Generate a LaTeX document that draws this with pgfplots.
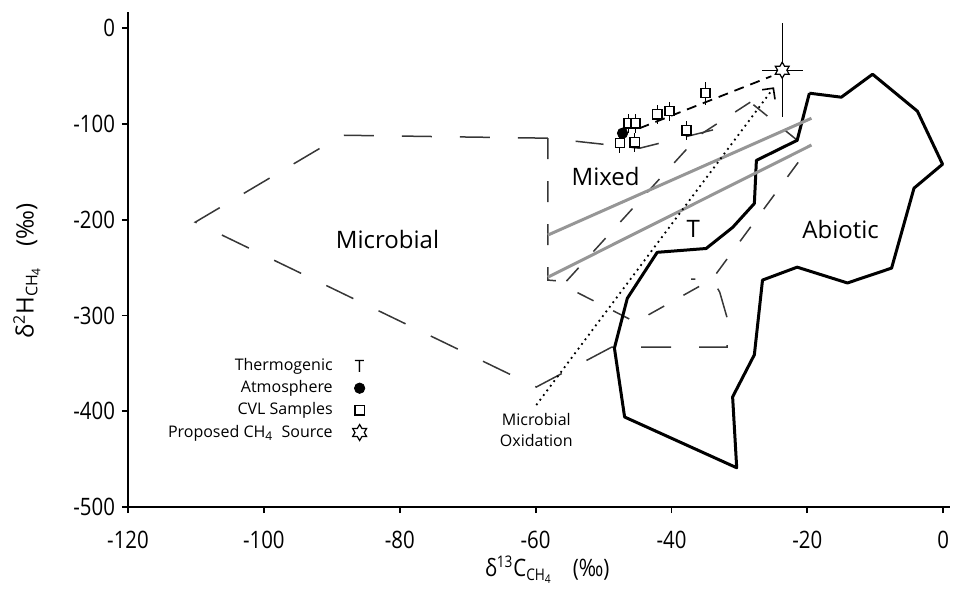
\documentclass[border=0pt]{standalone}
\usepackage{fontspec}
\setmainfont{Open Sans}
\newfontfamily\condfont{Open Sans}[FakeStretch=0.85]
\usepackage{pgfplots}
\pgfplotsset{compat=1.18}
\usetikzlibrary{arrows.meta,calc}

\definecolor{midgray}{RGB}{150,150,150}
\definecolor{dashgray}{RGB}{55,55,55}

% six-pointed outline star
\pgfdeclareplotmark{hexstar}{%
  \pgfpathmoveto{\pgfqpoint{0pt}{\pgfplotmarksize}}%
  \pgfpathlineto{\pgfqpoint{-0.29\pgfplotmarksize}{0.5\pgfplotmarksize}}%
  \pgfpathlineto{\pgfqpoint{-0.866\pgfplotmarksize}{0.5\pgfplotmarksize}}%
  \pgfpathlineto{\pgfqpoint{-0.58\pgfplotmarksize}{0pt}}%
  \pgfpathlineto{\pgfqpoint{-0.866\pgfplotmarksize}{-0.5\pgfplotmarksize}}%
  \pgfpathlineto{\pgfqpoint{-0.29\pgfplotmarksize}{-0.5\pgfplotmarksize}}%
  \pgfpathlineto{\pgfqpoint{0pt}{-\pgfplotmarksize}}%
  \pgfpathlineto{\pgfqpoint{0.29\pgfplotmarksize}{-0.5\pgfplotmarksize}}%
  \pgfpathlineto{\pgfqpoint{0.866\pgfplotmarksize}{-0.5\pgfplotmarksize}}%
  \pgfpathlineto{\pgfqpoint{0.58\pgfplotmarksize}{0pt}}%
  \pgfpathlineto{\pgfqpoint{0.866\pgfplotmarksize}{0.5\pgfplotmarksize}}%
  \pgfpathlineto{\pgfqpoint{0.29\pgfplotmarksize}{0.5\pgfplotmarksize}}%
  \pgfpathclose
  \pgfusepathqfillstroke
}

\begin{document}
\begin{tikzpicture}
\begin{axis}[
    scale only axis,
    width=411pt, height=247.5pt,
    xmin=-120, xmax=1, ymin=-500, ymax=17,
    axis lines=left,
    axis line style={-, line width=1pt},
    xtick={-120,-100,...,0},
    ytick={-500,-400,...,0},
    tick align=outside,
    major tick length=3pt,
    tick style={line width=0.9pt, black},
    /pgf/number format/assume math mode=true,
    ticklabel style={font=\condfont\fontsize{12}{14}\selectfont},
    xticklabel style={yshift=-5.5pt},
    xlabel={δ\textsuperscript{13}C\textsubscript{CH\textsubscript{4}}\hspace{10pt}(‰)},
    ylabel={δ\textsuperscript{2}H\textsubscript{CH\textsubscript{4}}\hspace{10pt}(‰)},
    xlabel style={font=\condfont\fontsize{12}{14}\selectfont,
        at={(axis description cs:0.51,-0.127)}, anchor=center},
    ylabel style={font=\fontsize{12}{14}\selectfont,
        at={(axis description cs:-0.123,0.477)}, anchor=center},
    legend plot pos=right,
    legend cell align=right,
    legend style={draw=none, fill=none, at={(0.298,0.313)}, anchor=north east,
        font=\fontsize{8}{9}\selectfont, row sep=1.5pt, column sep=9pt,
        nodes={inner sep=1pt}},
    clip=false,
]

% legend entries
\addlegendimage{only marks, mark=text, text mark={\fontsize{8.5}{9}\selectfont T}}
\addlegendentry{Thermogenic}
\addlegendimage{only marks, mark=*, mark size=2.6pt, black}
\addlegendentry{Atmosphere}
\addlegendimage{only marks, mark=square, mark size=2.3pt, black, line width=0.7pt}
\addlegendentry{CVL Samples}
\addlegendimage{only marks, mark=hexstar, mark size=4pt,
    mark options={fill=white, draw=black, line width=0.6pt}}
\addlegendentry{Proposed CH\textsubscript{4}\ \ Source}

% microbial / mixed field outlines (dashed)
\addplot[forget plot, dashgray, line width=0.75pt, dash pattern=on 15pt off 14pt]
  coordinates {(-58.2,-114.8) (-88.5,-111.7) (-110.1,-202.5) (-59.9,-374.7)
               (-48.8,-333) (-31.8,-333) (-31.8,-302.7) (-32.9,-275.6)
               (-34.0,-262) (-37.1,-262)};
\addplot[forget plot, dashgray, line width=0.75pt, dash pattern=on 10.5pt off 11pt]
  coordinates {(-58.2,-114.8) (-58.2,-263) (-56.5,-264)};
\addplot[forget plot, dashgray, line width=0.75pt, dash pattern=on 14pt off 14pt,
    dash phase=14pt]
  coordinates {(-58.2,-114.8) (-44.7,-125.3) (-32.9,-104.4)};
% thermogenic field outline
\addplot[forget plot, dashgray, line width=0.75pt, dash pattern=on 9pt off 11pt]
  coordinates {(-28.4,-77.2) (-35.9,-111.7) (-56.0,-268.3) (-45.3,-306.9)
               (-34.0,-262) (-20.9,-135.7) (-21.5,-116.9) (-28.4,-77.2)};

% abiotic field
\addplot[forget plot, black, line width=1.5pt, line join=round]
  coordinates {(-19.7,-67.8) (-15.0,-72.0) (-10.4,-48.0) (-3.8,-86.6)
               (-0.1,-142) (-4.3,-167) (-7.6,-250.5) (-14.1,-266)
               (-21.5,-249.5) (-26.6,-263) (-27.8,-341) (-31.0,-385)
               (-30.4,-459) (-46.9,-406) (-48.4,-334) (-46.5,-282)
               (-42.1,-234) (-34.9,-230) (-31.0,-208) (-27.8,-183)
               (-27.5,-138) (-21.5,-117) (-19.7,-67.8)};

% mixing lines
\addplot[forget plot, midgray, line width=1.5pt]
  coordinates {(-58.2,-216) (-19.4,-94)};
\addplot[forget plot, midgray, line width=1.5pt]
  coordinates {(-58.2,-260) (-19.4,-122)};

% microbial oxidation trend
\addplot[forget plot, black, line width=0.9pt, dotted,
    -{Straight Barb[length=4pt, width=8pt, line width=0.8pt]}]
  coordinates {(-59.9,-393.5) (-24.9,-61.6)};

% trend to proposed source
\addplot[forget plot, black, line width=0.9pt, dash pattern=on 5pt off 3.5pt]
  coordinates {(-44.7,-104.4) (-25.3,-50.1)};

% CVL samples
\addplot[forget plot, only marks, mark=square*, mark size=2.3pt,
    mark options={fill=white, draw=black, line width=0.7pt},
    error bars/.cd, y dir=both, y explicit, error mark=none,
    error bar style={line width=0.6pt, black}]
  coordinates {
    (-47.6,-120) +- (0,10)
    (-45.4,-119) +- (0,10)
    (-46.3,-99.2) +- (0,10)
    (-45.3,-99.2) +- (0,10)
    (-42.1,-89.8) +- (0,10)
    (-40.3,-86.6) +- (0,10)
    (-37.8,-106.5) +- (0,10)
    (-35.0,-67.8) +- (0,12)
  };

% atmosphere
\addplot[forget plot, only marks, mark=*, mark size=2.6pt, black]
  coordinates {(-47.2,-109.6)};

% proposed CH4 source
\addplot[forget plot, only marks, mark=hexstar, mark size=4pt,
    mark options={fill=white, draw=black, line width=0.6pt},
    error bars/.cd, x dir=both, y dir=both, x explicit, y explicit,
    error mark=none, error bar style={line width=0.5pt, black}]
  coordinates {(-23.7,-43.8) +- (3,49)};

% field labels
\node[font=\fontsize{12}{14}\selectfont] at (axis cs:-81.8,-221) {Microbial};
\node[font=\fontsize{12}{14}\selectfont] at (axis cs:-49.7,-154.5) {Mixed};
\node[font=\fontsize{12}{14}\selectfont] at (axis cs:-36.8,-209.8) {T};
\node[font=\fontsize{12}{14}\selectfont] at (axis cs:-15.1,-209.8) {Abiotic};
\node[font=\fontsize{8}{10.5}\selectfont, align=center] at (axis cs:-59.9,-419.6)
  {Microbial\\Oxidation};

\coordinate (ll) at (rel axis cs:0,0);
\coordinate (ur) at (rel axis cs:1,1);
\end{axis}
\pgfresetboundingbox
\path (ll) ++(-64pt,-41.5pt) rectangle ($(ur)+(2.5pt,6pt)$);
\end{tikzpicture}
\end{document}
